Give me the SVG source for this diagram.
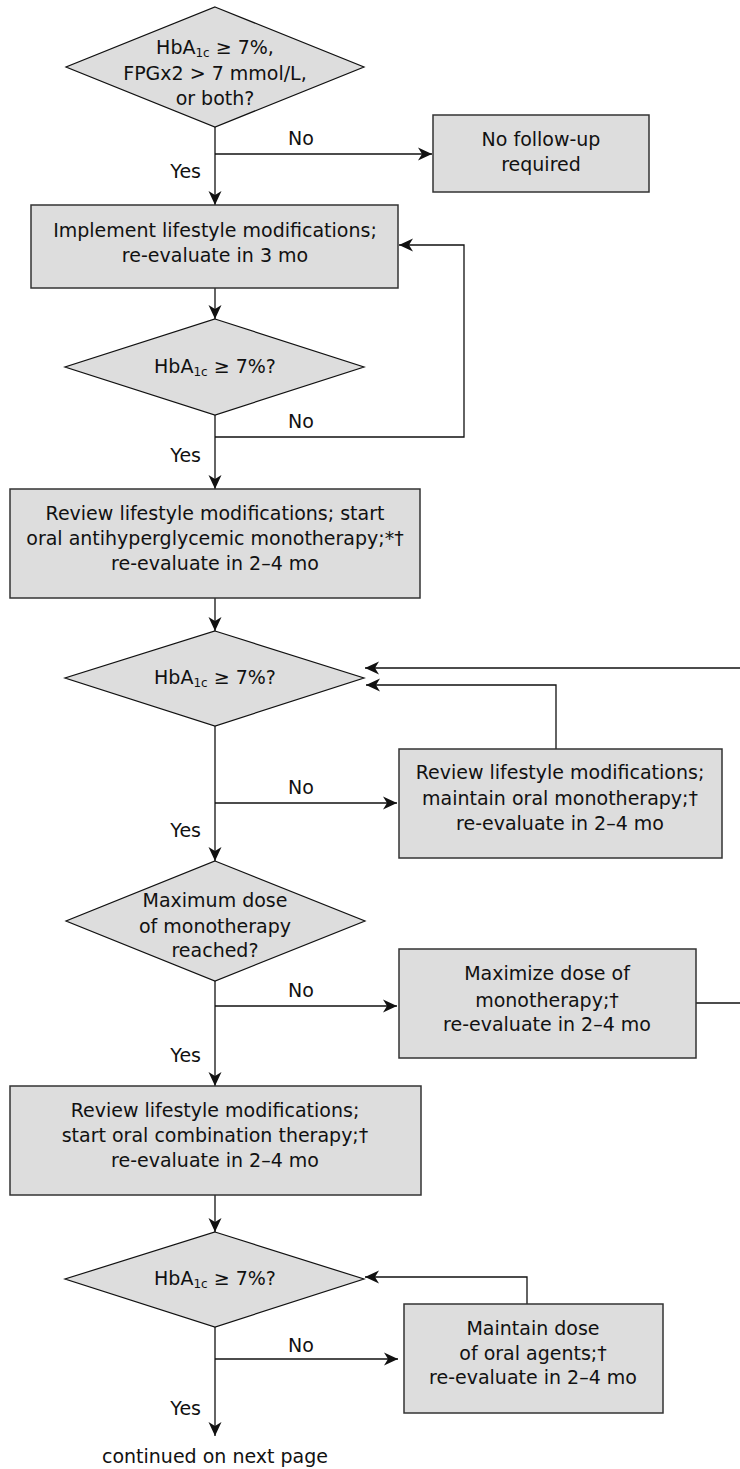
<svg xmlns="http://www.w3.org/2000/svg" width="740" height="1469" viewBox="0 0 740 1469">
<style>
text{font-family:"DejaVu Sans","Liberation Sans",sans-serif;font-size:19px;fill:#111;text-anchor:middle}
.yes{text-anchor:end}
.sub{font-size:12px}
.box{fill:#dddddd;stroke:#333;stroke-width:1.5}
.dia{fill:#dddddd;stroke:#111;stroke-width:1.2}
.ln{fill:none;stroke:#111;stroke-width:1.3}
</style>
<defs>
<marker id="ah" markerUnits="userSpaceOnUse" markerWidth="16" markerHeight="16" viewBox="0 0 16 16" refX="14" refY="8" orient="auto">
<path d="M0,1.5 L14,8 L0,14.5 L4,8 Z" fill="#111"/>
</marker>
</defs>
<g id="connectors">
<path class="ln" d="M215,127 V205" marker-end="url(#ah)"/>
<path class="ln" d="M215,154 H432" marker-end="url(#ah)"/>
<path class="ln" d="M215,288 V319" marker-end="url(#ah)"/>
<path class="ln" d="M215,415 V489" marker-end="url(#ah)"/>
<path class="ln" d="M215,437 H464 V245 H399" marker-end="url(#ah)"/>
<path class="ln" d="M215,598 V631" marker-end="url(#ah)"/>
<path class="ln" d="M740,668 H365" marker-end="url(#ah)"/>
<path class="ln" d="M556,749 V685 H366" marker-end="url(#ah)"/>
<path class="ln" d="M215,726 V861" marker-end="url(#ah)"/>
<path class="ln" d="M215,803 H397" marker-end="url(#ah)"/>
<path class="ln" d="M215,981 V1086" marker-end="url(#ah)"/>
<path class="ln" d="M215,1006 H397" marker-end="url(#ah)"/>
<path class="ln" d="M696,1003 H740"/>
<path class="ln" d="M215,1195 V1232" marker-end="url(#ah)"/>
<path class="ln" d="M527,1304 V1277 H365" marker-end="url(#ah)"/>
<path class="ln" d="M215,1327 V1436" marker-end="url(#ah)"/>
<path class="ln" d="M215,1359 H398" marker-end="url(#ah)"/>
<text x="301" y="145">No</text>
<text class="yes" x="201" y="178">Yes</text>
<text x="301" y="428">No</text>
<text class="yes" x="201" y="462">Yes</text>
<text x="301" y="794">No</text>
<text class="yes" x="201" y="837">Yes</text>
<text x="301" y="997">No</text>
<text class="yes" x="201" y="1062">Yes</text>
<text x="301" y="1352">No</text>
<text class="yes" x="201" y="1415">Yes</text>
</g>
<g id="d1">
<polygon class="dia" points="215,7 364,67 215,127 66,67"/>
<text x="215" y="54">HbA<tspan class="sub" dy="3">1c</tspan><tspan dy="-3"> ≥ 7%,</tspan></text>
<text x="215" y="80">FPGx2 &gt; 7 mmol/L,</text>
<text x="215" y="105">or both?</text>
</g>
<g id="n_nofollow">
<rect class="box" x="433" y="115" width="216" height="77"/>
<text x="541" y="146">No follow-up</text>
<text x="541" y="171">required</text>
</g>
<g id="b_lifestyle">
<rect class="box" x="31" y="205" width="367" height="83"/>
<text x="215" y="237">Implement lifestyle modifications;</text>
<text x="215" y="262">re-evaluate in 3 mo</text>
</g>
<g id="d2">
<polygon class="dia" points="215,319 364,367 215,415 65,367"/>
<text x="215" y="373">HbA<tspan class="sub" dy="3">1c</tspan><tspan dy="-3"> ≥ 7%?</tspan></text>
</g>
<g id="b_mono">
<rect class="box" x="10" y="489" width="410" height="109"/>
<text x="215" y="520">Review lifestyle modifications; start</text>
<text x="215" y="545">oral antihyperglycemic monotherapy;*†</text>
<text x="215" y="570">re-evaluate in 2–4 mo</text>
</g>
<g id="d3">
<polygon class="dia" points="215,631 364,678 215,726 65,678"/>
<text x="215" y="684">HbA<tspan class="sub" dy="3">1c</tspan><tspan dy="-3"> ≥ 7%?</tspan></text>
</g>
<g id="b_maintain_mono">
<rect class="box" x="399" y="749" width="323" height="109"/>
<text x="560" y="779">Review lifestyle modifications;</text>
<text x="560" y="805">maintain oral monotherapy;†</text>
<text x="560" y="830">re-evaluate in 2–4 mo</text>
</g>
<g id="d4">
<polygon class="dia" points="215,861 365,921 215,981 66,921"/>
<text x="215" y="907">Maximum dose</text>
<text x="215" y="933">of monotherapy</text>
<text x="215" y="957">reached?</text>
</g>
<g id="b_maximize">
<rect class="box" x="399" y="949" width="297" height="109"/>
<text x="547" y="980">Maximize dose of</text>
<text x="547" y="1007">monotherapy;†</text>
<text x="547" y="1031">re-evaluate in 2–4 mo</text>
</g>
<g id="b_combo">
<rect class="box" x="10" y="1086" width="411" height="109"/>
<text x="215" y="1117">Review lifestyle modifications;</text>
<text x="215" y="1142">start oral combination therapy;†</text>
<text x="215" y="1167">re-evaluate in 2–4 mo</text>
</g>
<g id="d5">
<polygon class="dia" points="215,1232 364,1279 215,1327 65,1279"/>
<text x="215" y="1285">HbA<tspan class="sub" dy="3">1c</tspan><tspan dy="-3"> ≥ 7%?</tspan></text>
</g>
<g id="b_maintain_dose">
<rect class="box" x="404" y="1304" width="259" height="109"/>
<text x="533" y="1335">Maintain dose</text>
<text x="533" y="1360">of oral agents;†</text>
<text x="533" y="1384">re-evaluate in 2–4 mo</text>
</g>
<g id="t_continued">
<text x="215" y="1463">continued on next page</text>
</g>
</svg>
